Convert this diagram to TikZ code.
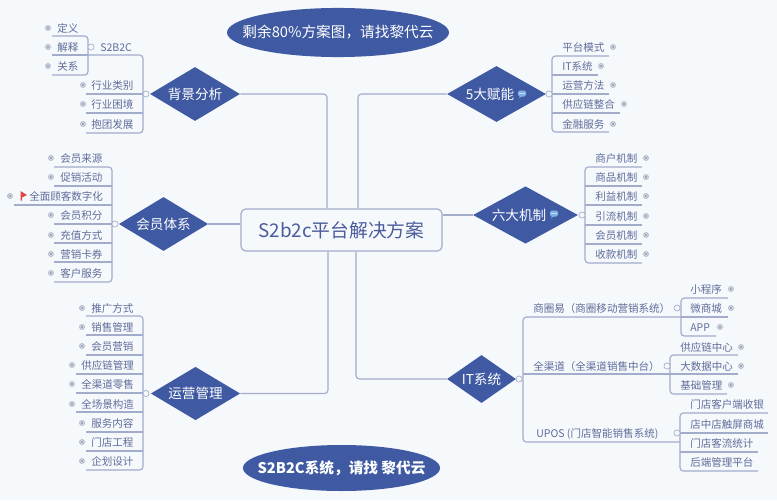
\documentclass[tikz,border=0pt]{standalone}
\usepackage{fontspec}
\setmainfont{Noto Sans CJK SC}
\usetikzlibrary{shapes.geometric}
\definecolor{bgc}{HTML}{F6F9FB}
\definecolor{navy}{HTML}{3F5AA2}
\definecolor{linec}{HTML}{A3ACCB}
\definecolor{txtc}{HTML}{5F6C9B}
\definecolor{titlec}{HTML}{4A5C9C}
\definecolor{dotc}{HTML}{7F88A6}
\definecolor{flagc}{HTML}{E0474C}
\definecolor{notec}{HTML}{7FB2E5}
\tikzset{
  conn/.style={draw=linec,line width=0.85pt,rounded corners=2.5pt},
  leaftext/.style={anchor=west,inner sep=0pt,text height=7.6pt,text depth=1pt,text=txtc,font=\fontsize{7.9}{9}\selectfont},
  hub/.style={circle,draw=linec,fill=bgc,line width=0.5pt,minimum size=4.6pt,inner sep=0pt},
  topic/.style={diamond,fill=navy,draw=none,inner sep=0pt,text=white,font=\fontsize{10.2}{12}\selectfont},
  topiclabel/.style={inner sep=0pt,text=white,font=\fontsize{10.2}{12}\selectfont},
  bannertext/.style={inner sep=0pt,text=white,font=\fontsize{11}{13}\selectfont},
  center/.style={draw=linec,fill=bgc,line width=0.9pt,rounded corners=3.5pt,text=titlec,inner sep=0pt,font=\fontsize{14.1}{17}\selectfont}
}
% name, text, text left x, text y, line far x, line near x, line y
\newcommand{\lf}[7]{%
  \node[leaftext] (#1) at (#3,#4) {#2};
  \coordinate (#1-far) at (#5,#7);
  \coordinate (#1-near) at (#6,#7);}
\newcommand{\dt}[2]{%
  \fill[dotc!60] (#1,#2) circle (2.2pt);
  \fill[bgc] (#1,#2) circle (1.45pt);
  \fill[dotc] (#1,#2) circle (0.85pt);}
\newcommand{\midl}[1]{\draw[conn] (#1-far) -- (#1-near);}
\newcommand{\brk}[2]{\draw[conn] (#1-far) -- (#1-near) -- (#2-near) -- (#2-far);}
\newcommand{\noteicon}[2]{%
  \fill[notec,rounded corners=1.2pt] (#1-4,#2-3.5) rectangle (#1+4,#2+2.5);
  \fill[notec] (#1-2,#2+2) -- (#1-3,#2+4.5) -- (#1,#2+2) -- cycle;
  \fill[white] (#1-2,#2-.5) circle (.45pt) (#1,#2-.5) circle (.45pt) (#1+2,#2-.5) circle (.45pt);}
\begin{document}
\begin{tikzpicture}[x=0.75pt,y=-0.75pt]
\useasboundingbox (0,0) rectangle (777,500);
\fill[bgc] (0,0) rectangle (777,500);

% centre
\node[center,minimum width=150.75pt,minimum height=31.5pt] (central) at (341.5,230) {S2b2c平台解决方案};

% banners
\fill[navy] (338,32.5) ellipse [x radius=83.25pt,y radius=18.4pt];
\node[bannertext] (ban1) at (338,32.5) {剩余80\%方案图，请找黎代云};
\fill[navy] (341.5,468) ellipse [x radius=73.9pt,y radius=17.25pt];
\node[bannertext,font=\fontsize{11}{13}\selectfont\bfseries] (ban2) at (341.5,468) {S2B2C系统，请找 黎代云};

% topics
\node[topic,minimum width=67.5pt,minimum height=40.5pt,aspect=1.67] (bg) at (195,94) {背景分析};
\node[topic,minimum width=67pt,minimum height=40.5pt,aspect=1.65] (vip) at (163.5,224) {会员体系};
\node[topic,minimum width=67pt,minimum height=40pt,aspect=1.67] (ops) at (195.5,393.5) {运营管理};
\node[topic,minimum width=74.25pt,minimum height=42pt,aspect=1.77] (five) at (496.5,94) {};
\node[topiclabel] (fivel) at (490,94) {5大赋能};
\noteicon{522}{94}
\node[topic,minimum width=78.75pt,minimum height=43pt,aspect=1.83] (six) at (525.5,215) {};
\node[topiclabel] (sixl) at (519,215) {六大机制};
\noteicon{554}{214}
\node[topic,minimum width=51.75pt,minimum height=36pt,aspect=1.44] (it) at (481.5,379) {IT系统};

% trunk connectors
\coordinate (bgbend) at (327,94);
\coordinate (opsbend) at (328,393.5);
\coordinate (fivebend) at (358,94);
\coordinate (itbend) at (356,379);
\draw[conn] (bg.east) -- (bgbend) -- (bgbend |- central.north);
\draw[conn] (ops.east) -- (opsbend) -- (opsbend |- central.south);
\draw[conn] (five.west) -- (fivebend) -- (fivebend |- central.north);
\draw[conn] (it.west) -- (itbend) -- (itbend |- central.south);
\draw[conn] (vip.east) -- (vip.east -| central.west);
\draw[conn] (six.west) -- (six.west -| central.east);

% background analysis
\lf{a1}{定义}{57}{28}{52}{88}{36}
\lf{a2}{解释}{57}{47}{52}{88}{55}
\lf{a3}{关系}{57}{66}{52}{88}{75}
\dt{48}{28}\dt{48}{47}\dt{48}{66}
\lf{s2}{S2B2C}{100}{47}{88}{143}{55}
\lf{a4}{行业类别}{91}{85}{86}{143}{94}
\lf{a5}{行业困境}{91}{104}{86}{143}{113}
\lf{a6}{抱团发展}{91}{124}{86}{143}{133}
\dt{83}{85}\dt{83}{104}\dt{83}{124}
\brk{a1}{a3}\midl{a2}
\brk{s2}{a6}\midl{a4}\midl{a5}
\node[hub] (hubs) at (91,47) {};
\node[hub] (huba) at (146,94) {};

% member system
\lf{b1}{会员来源}{60}{158}{54}{112}{167}
\lf{b2}{促销活动}{60}{177}{54}{112}{186}
\lf{b3}{全面顾客数字化}{29}{196}{14}{112}{205}
\lf{b4}{会员积分}{60}{215}{54}{112}{224}
\lf{b5}{充值方式}{60}{235}{54}{112}{243}
\lf{b6}{营销卡券}{60}{254}{54}{112}{262}
\lf{b7}{客户服务}{60}{273}{54}{112}{282}
\dt{51}{158}\dt{51}{177}\dt{10}{196}\dt{51}{215}\dt{51}{235}\dt{51}{254}\dt{51}{273}
\fill[flagc] (20.5,191) -- (27,195) -- (22,197.5) -- (22,200.5) -- (20.5,200.5) -- cycle;
\brk{b1}{b7}\midl{b2}\midl{b3}\midl{b4}\midl{b5}\midl{b6}
\node[hub] (hubb) at (115,224) {};

% operations
\lf{c1}{推广方式}{91}{308}{86}{143}{316}
\lf{c2}{销售管理}{91}{327}{86}{143}{335}
\lf{c3}{会员营销}{91}{346}{86}{143}{355}
\lf{c4}{供应链管理}{81}{365}{76}{143}{374}
\lf{c5}{全渠道零售}{81}{384}{76}{143}{393}
\lf{c6}{全场景构造}{81}{404}{76}{143}{412}
\lf{c7}{服务内容}{91}{423}{86}{143}{432}
\lf{c8}{门店工程}{91}{442}{86}{143}{451}
\lf{c9}{企划设计}{91}{461}{86}{143}{470}
\dt{82}{308}\dt{82}{327}\dt{82}{346}\dt{72}{365}\dt{72}{384}\dt{72}{404}\dt{82}{423}\dt{82}{442}\dt{82}{461}
\brk{c1}{c9}\midl{c2}\midl{c3}\midl{c4}\midl{c5}\midl{c6}\midl{c7}\midl{c8}
\node[hub] (hubc) at (146,393.5) {};

% five
\lf{d1}{平台模式}{562}{47}{609}{552}{56}
\lf{d2}{IT系统}{562}{66}{598}{552}{75}
\lf{d3}{运营方法}{562}{85}{609}{552}{94}
\lf{d4}{供应链整合}{562}{104}{620}{552}{113}
\lf{d5}{金融服务}{562}{124}{609}{552}{132}
\dt{613}{47}\dt{601}{66}\dt{613}{85}\dt{624}{104}\dt{613}{124}
\brk{d1}{d5}\midl{d2}\midl{d3}\midl{d4}
\node[hub] (hubd) at (549,94) {};

% six
\lf{e1}{商户机制}{595}{158}{642}{585}{167}
\lf{e2}{商品机制}{595}{177}{642}{585}{186}
\lf{e3}{利益机制}{595}{196}{642}{585}{205}
\lf{e4}{引流机制}{595}{216}{642}{585}{225}
\lf{e5}{会员机制}{595}{235}{642}{585}{244}
\lf{e6}{收款机制}{595}{254}{642}{585}{263}
\dt{646}{158}\dt{646}{177}\dt{646}{196}\dt{646}{216}\dt{646}{235}\dt{646}{254}
\brk{e1}{e6}\midl{e2}\midl{e3}\midl{e4}\midl{e5}
\node[hub] (hube) at (582,215) {};

% IT
\lf{f1}{商圈易（商圈移动营销系统）}{533}{308}{681}{523}{317}
\lf{f2}{全渠道（全渠道销售中台）}{533}{366}{670}{523}{374}
\lf{f3}{UPOS (门店智能销售系统)}{536}{433}{680}{523}{442}
\brk{f1}{f3}\midl{f2}
\node[hub] (hubf) at (519,379) {};

\lf{g1}{小程序}{690}{289}{728}{681}{298}
\lf{g2}{微商城}{690}{308}{728}{681}{317}
\lf{g3}{APP}{690}{327}{716}{681}{336}
\dt{731}{289}\dt{731}{308}\dt{720}{327}
\brk{g1}{g3}\midl{g2}
\node[hub] (hubg) at (677,308) {};

\lf{h1}{供应链中心}{680}{347}{738}{670}{355}
\lf{h2}{大数据中心}{680}{366}{738}{670}{374}
\lf{h3}{基础管理}{680}{385}{727}{670}{394}
\dt{741}{347}\dt{741}{366}\dt{731}{385}
\brk{h1}{h3}\midl{h2}
\node[hub] (hubh) at (667,366) {};

\lf{i1}{门店客户端收银}{690}{404}{768}{680}{413}
\lf{i2}{店中店触屏商城}{690}{424}{768}{680}{433}
\lf{i3}{门店客流统计}{690}{443}{758}{680}{452}
\lf{i4}{后端管理平台}{690}{462}{758}{680}{471}
\brk{i1}{i4}\midl{i2}\midl{i3}
\node[hub] (hubi) at (677,433) {};
\end{tikzpicture}
\end{document}
